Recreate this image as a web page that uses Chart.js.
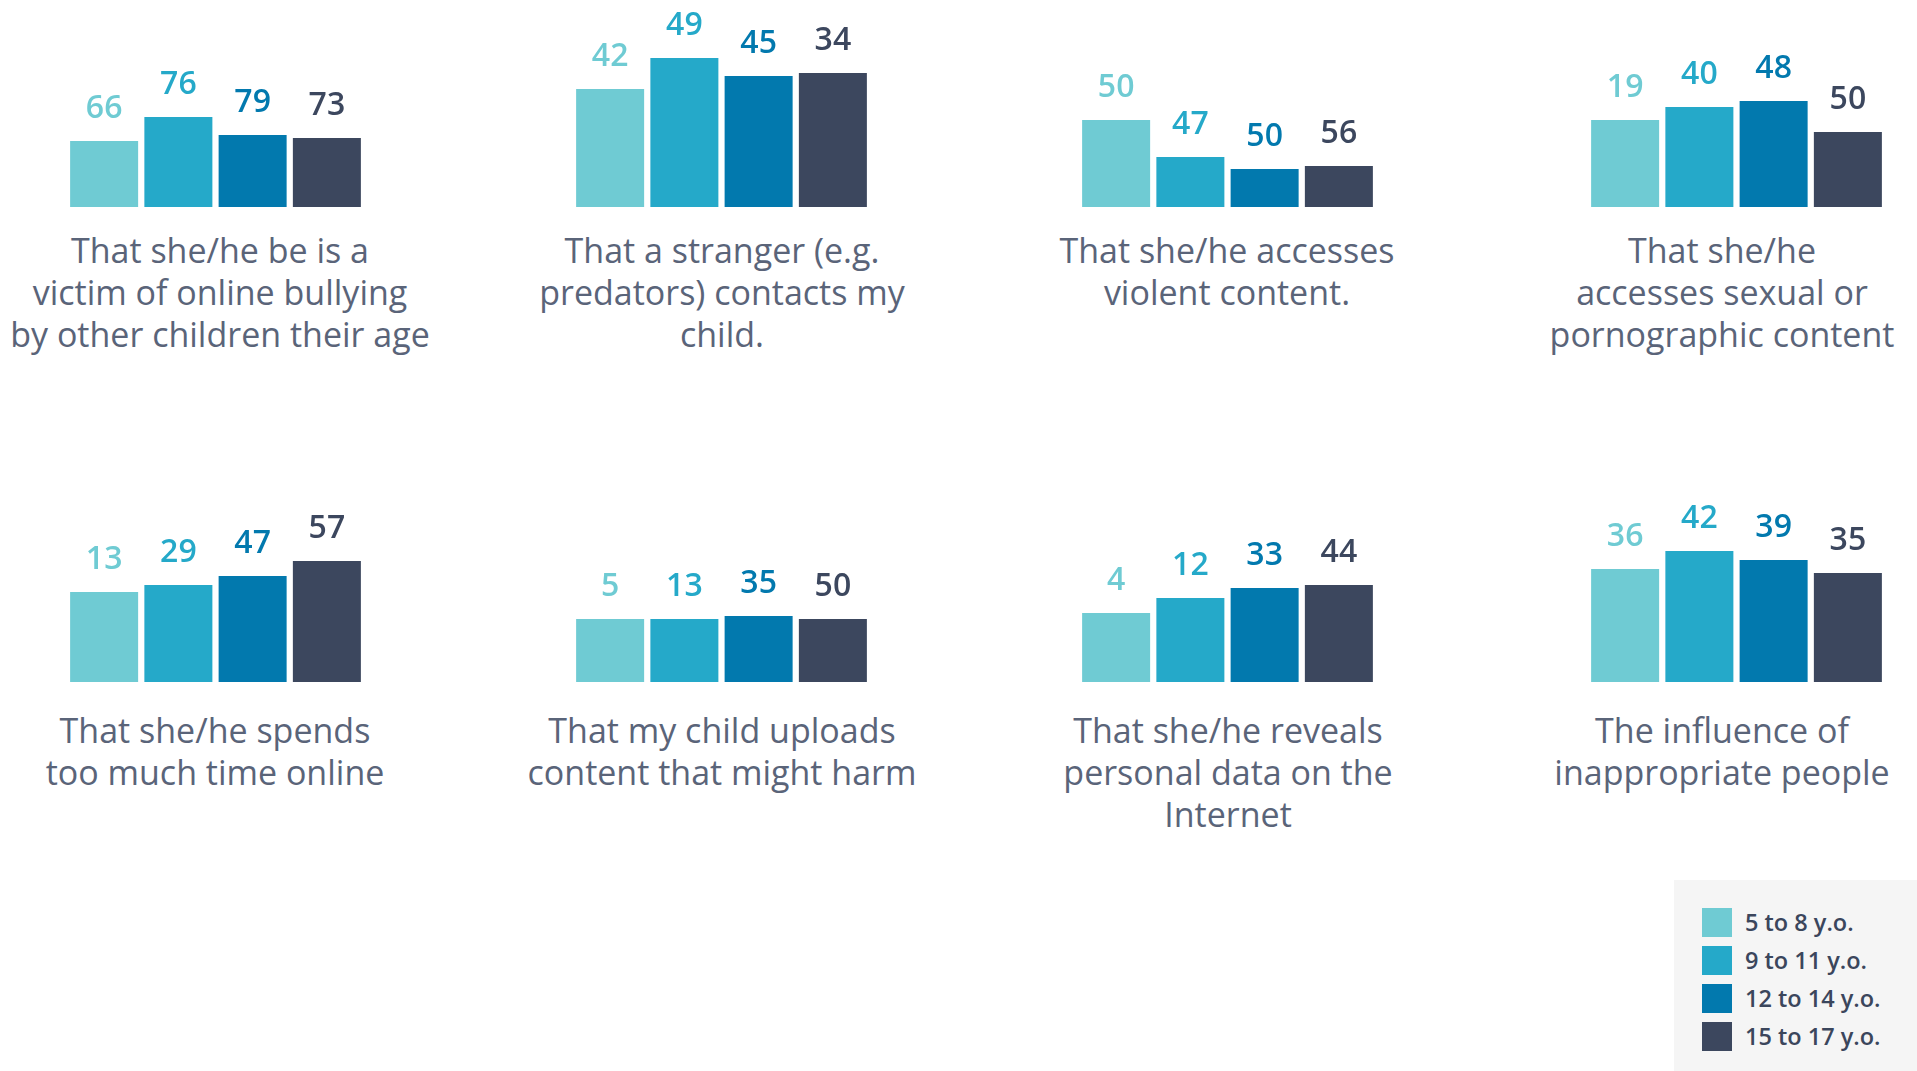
<!DOCTYPE html>
<html>
<head>
<meta charset="utf-8">
<script src="https://cdn.jsdelivr.net/npm/chart.js@4/dist/chart.umd.min.js"></script>
<style>
  html, body { margin: 0; padding: 0; background: #ffffff; }
  body { width: 1917px; height: 1071px; position: relative; overflow: hidden; font-family: "Open Sans", sans-serif; }
  canvas.panel { position: absolute; }
  .cat { position: absolute; width: 520px; text-align: center; font-size: 34px; line-height: 42px; color: #5a6479; font-weight: 400; white-space: nowrap; }
  #legend { position: absolute; left: 1674px; top: 880px; width: 243px; height: 191px; background: #f5f5f5; }
  .lg-row { position: absolute; left: 28px; height: 30px; display: flex; align-items: center; }
  .lg-sw { width: 30px; height: 29px; margin-right: 13px; }
  .lg-tx { font-size: 23.5px; font-weight: 600; color: #3b465c; white-space: nowrap; }
</style>
</head>
<body>
<script>
// ---- data ----
const categories = [
  "That she/he be is a\nvictim of online bullying\nby other children their age",
  "That a stranger (e.g.\npredators) contacts my\nchild.",
  "That she/he accesses\nviolent content.",
  "That she/he\naccesses sexual or\npornographic content",
  "That she/he spends\ntoo much time online",
  "That my child uploads\ncontent that might harm",
  "That she/he reveals\npersonal data on the\nInternet",
  "The influence of\ninappropriate people"
];
const ageGroups = ["5 to 8 y.o.", "9 to 11 y.o.", "12 to 14 y.o.", "15 to 17 y.o."];

// values printed above the bars
const values5to8   = [66, 42, 50, 19, 13,  5,  4, 36];
const values9to11  = [76, 49, 47, 40, 29, 13, 12, 42];
const values12to14 = [79, 45, 50, 48, 47, 35, 33, 39];
const values15to17 = [73, 34, 56, 50, 57, 50, 44, 35];

// bar heights as drawn in the picture (the drawn bars do not follow the printed values)
const barHeights5to8   = [66, 118, 87,  87,  90, 63, 69, 113];
const barHeights9to11  = [90, 149, 50, 100,  97, 63, 84, 131];
const barHeights12to14 = [72, 131, 38, 106, 106, 66, 94, 122];
const barHeights15to17 = [69, 134, 41,  75, 121, 63, 97, 109];

// ---- styles / layout ----
const colors = ["#6fcbd3", "#25a9c9", "#0279ae", "#3c475e"];
const valueSeries = [values5to8, values9to11, values12to14, values15to17];
const heightSeries = [barHeights5to8, barHeights9to11, barHeights12to14, barHeights15to17];
const colLeft = [67, 573, 1079, 1588];          // chart-area left per column
const textCenter = [220, 722, 1227, 1722, 215, 722, 1228, 1722];
const rowTop = [7, 482];                         // canvas top per row
const rowTextTop = [229, 709];
const CW = 297, CH = 200;

const valueLabelPlugin = {
  id: 'valueLabels',
  afterDatasetsDraw(chart) {
    const ctx = chart.ctx;
    const idx = chart.options.plugins.valueLabels.panel;
    ctx.save();
    ctx.font = '600 32px "Open Sans"';
    ctx.textAlign = 'center';
    ctx.textBaseline = 'alphabetic';
    chart.data.datasets.forEach((ds, di) => {
      const meta = chart.getDatasetMeta(di);
      meta.data.forEach((bar) => {
        ctx.fillStyle = ds.backgroundColor;
        ctx.fillText(String(valueSeries[di][idx]), bar.x, bar.y - 23);
      });
    });
    ctx.restore();
  }
};

for (let i = 0; i < categories.length; i++) {
  const row = Math.floor(i / 4), col = i % 4;
  const cv = document.createElement('canvas');
  cv.className = 'panel';
  cv.width = CW; cv.height = CH;
  cv.style.left = colLeft[col] + 'px';
  cv.style.top = rowTop[row] + 'px';
  cv.style.width = CW + 'px';
  cv.style.height = CH + 'px';
  document.body.appendChild(cv);

  new Chart(cv, {
    type: 'bar',
    data: {
      labels: [categories[i].replace(/\n/g, ' ')],
      datasets: ageGroups.map((g, k) => ({
        label: g,
        data: [heightSeries[k][i]],
        backgroundColor: colors[k],
        borderWidth: 0,
        categoryPercentage: 1,
        barPercentage: 0.916
      }))
    },
    options: {
      responsive: false,
      animation: false,
      devicePixelRatio: 1,
      layout: { padding: 0 },
      scales: {
        x: { display: false },
        y: { display: false, min: 0, max: CH }
      },
      plugins: {
        legend: { display: false },
        tooltip: { enabled: false },
        valueLabels: { panel: i }
      }
    },
    plugins: [valueLabelPlugin]
  });

  const t = document.createElement('div');
  t.className = 'cat';
  t.style.left = (textCenter[i] - 260) + 'px';
  t.style.top = rowTextTop[row] + 'px';
  t.innerHTML = categories[i].split('\n').map(s => s.replace(/&/g,'&amp;').replace(/</g,'&lt;')).join('<br>');
  document.body.appendChild(t);
}

// legend
const lg = document.createElement('div');
lg.id = 'legend';
const rowTops = [27, 65, 103, 141];
ageGroups.forEach((g, k) => {
  const r = document.createElement('div');
  r.className = 'lg-row';
  r.style.top = rowTops[k] + 'px';
  const sw = document.createElement('div');
  sw.className = 'lg-sw';
  sw.style.background = colors[k];
  const tx = document.createElement('div');
  tx.className = 'lg-tx';
  tx.textContent = g;
  r.appendChild(sw); r.appendChild(tx);
  lg.appendChild(r);
});
document.body.appendChild(lg);
</script>
</body>
</html>
